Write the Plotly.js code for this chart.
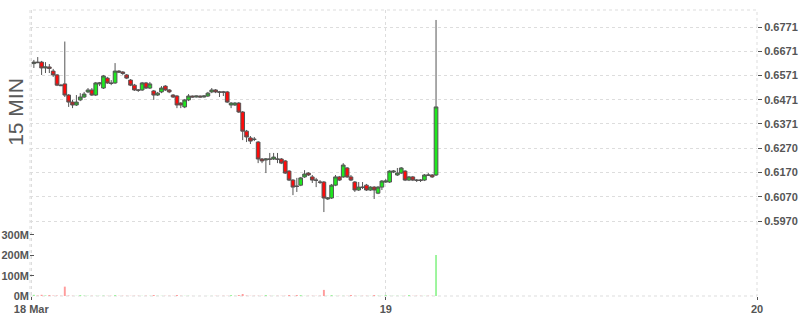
<!DOCTYPE html>
<html>
<head>
<meta charset="utf-8">
<script src="https://cdn.plot.ly/plotly-3.0.1.min.js"></script>
<style>html,body{margin:0;padding:0;background:#fff;}#chart{width:800px;height:315px;}</style>
</head>
<body>
<div id="chart"></div>
<script>
// 15-minute candles, 18 Mar 01:15 -> 19 Mar 03:15
var times = [
'2024-03-18 01:15','2024-03-18 01:30','2024-03-18 01:45','2024-03-18 02:00','2024-03-18 02:15','2024-03-18 02:30','2024-03-18 02:45',
'2024-03-18 03:00','2024-03-18 03:15','2024-03-18 03:30','2024-03-18 03:45','2024-03-18 04:00','2024-03-18 04:15','2024-03-18 04:30','2024-03-18 04:45',
'2024-03-18 05:00','2024-03-18 05:15','2024-03-18 05:30','2024-03-18 05:45','2024-03-18 06:00','2024-03-18 06:15','2024-03-18 06:30','2024-03-18 06:45',
'2024-03-18 07:00','2024-03-18 07:15','2024-03-18 07:30','2024-03-18 07:45','2024-03-18 08:00','2024-03-18 08:15','2024-03-18 08:30','2024-03-18 08:45',
'2024-03-18 09:00','2024-03-18 09:15','2024-03-18 09:30','2024-03-18 09:45','2024-03-18 10:00','2024-03-18 10:15','2024-03-18 10:30','2024-03-18 10:45',
'2024-03-18 11:00','2024-03-18 11:15','2024-03-18 11:30','2024-03-18 11:45','2024-03-18 12:00','2024-03-18 12:15','2024-03-18 12:30','2024-03-18 12:45',
'2024-03-18 13:00','2024-03-18 13:15','2024-03-18 13:30','2024-03-18 13:45','2024-03-18 14:00','2024-03-18 14:15','2024-03-18 14:30','2024-03-18 14:45',
'2024-03-18 15:00','2024-03-18 15:15','2024-03-18 15:30','2024-03-18 15:45','2024-03-18 16:00','2024-03-18 16:15','2024-03-18 16:30','2024-03-18 16:45',
'2024-03-18 17:00','2024-03-18 17:15','2024-03-18 17:30','2024-03-18 17:45','2024-03-18 18:00','2024-03-18 18:15','2024-03-18 18:30','2024-03-18 18:45',
'2024-03-18 19:00','2024-03-18 19:15','2024-03-18 19:30','2024-03-18 19:45','2024-03-18 20:00','2024-03-18 20:15','2024-03-18 20:30','2024-03-18 20:45',
'2024-03-18 21:00','2024-03-18 21:15','2024-03-18 21:30','2024-03-18 21:45','2024-03-18 22:00','2024-03-18 22:15','2024-03-18 22:30','2024-03-18 22:45',
'2024-03-18 23:00','2024-03-18 23:15','2024-03-18 23:30','2024-03-18 23:45',
'2024-03-19 00:00','2024-03-19 00:15','2024-03-19 00:30','2024-03-19 00:45','2024-03-19 01:00','2024-03-19 01:15','2024-03-19 01:30','2024-03-19 01:45',
'2024-03-19 02:00','2024-03-19 02:15','2024-03-19 02:30','2024-03-19 02:45','2024-03-19 03:00','2024-03-19 03:15'
];

var openP = [
0.6620,0.6626,0.6626,0.6602,0.6606,0.6589,0.6573,0.6531,0.6536,0.6490,0.6461,0.6449,0.6470,0.6482,0.6503,
0.6511,0.6490,0.6536,0.6519,0.6560,0.6540,0.6540,0.6589,0.6585,0.6573,0.6552,0.6531,0.6511,0.6511,0.6540,
0.6519,0.6507,0.6490,0.6503,0.6527,0.6511,0.6490,0.6486,0.6457,0.6441,0.6470,0.6486,0.6482,0.6486,0.6482,
0.6486,0.6503,0.6511,0.6503,0.6503,0.6503,0.6449,0.6449,0.6457,0.6420,0.6341,0.6313,0.6308,0.6296,0.6226,
0.6222,0.6226,0.6226,0.6226,0.6226,0.6218,0.6176,0.6139,0.6114,0.6118,0.6152,0.6168,0.6152,0.6139,0.6131,
0.6131,0.6061,0.6065,0.6118,0.6152,0.6152,0.6189,0.6152,0.6131,0.6098,0.6110,0.6118,0.6098,0.6110,0.6085,
0.6110,0.6131,0.6131,0.6172,0.6160,0.6168,0.6176,0.6139,0.6152,0.6139,0.6139,0.6139,0.6160,0.6160,0.6160
];
var highP = [
0.6635,0.6647,0.6631,0.6626,0.6618,0.6598,0.6577,0.6536,0.6711,0.6494,0.6470,0.6490,0.6498,0.6503,0.6519,
0.6519,0.6544,0.6544,0.6573,0.6565,0.6552,0.6622,0.6593,0.6589,0.6577,0.6556,0.6536,0.6515,0.6544,0.6544,
0.6544,0.6511,0.6503,0.6527,0.6531,0.6515,0.6494,0.6490,0.6461,0.6474,0.6494,0.6488,0.6488,0.6488,0.6490,
0.6503,0.6519,0.6515,0.6507,0.6507,0.6507,0.6461,0.6461,0.6461,0.6424,0.6346,0.6321,0.6317,0.6300,0.6230,
0.6230,0.6251,0.6251,0.6251,0.6230,0.6222,0.6180,0.6143,0.6148,0.6152,0.6180,0.6172,0.6160,0.6148,0.6139,
0.6135,0.6069,0.6123,0.6160,0.6156,0.6209,0.6193,0.6160,0.6135,0.6131,0.6131,0.6123,0.6114,0.6114,0.6114,
0.6139,0.6143,0.6180,0.6180,0.6189,0.6193,0.6180,0.6156,0.6156,0.6143,0.6143,0.6164,0.6168,0.6164,0.6800
];
var lowP = [
0.6602,0.6622,0.6573,0.6581,0.6581,0.6565,0.6527,0.6527,0.6482,0.6441,0.6436,0.6445,0.6465,0.6478,0.6498,
0.6486,0.6486,0.6527,0.6515,0.6536,0.6531,0.6536,0.6581,0.6573,0.6556,0.6527,0.6507,0.6503,0.6507,0.6515,
0.6515,0.6470,0.6486,0.6498,0.6507,0.6498,0.6478,0.6436,0.6436,0.6436,0.6465,0.6480,0.6480,0.6480,0.6480,
0.6482,0.6498,0.6498,0.6482,0.6486,0.6457,0.6436,0.6445,0.6416,0.6304,0.6296,0.6288,0.6300,0.6209,0.6209,
0.6168,0.6201,0.6222,0.6209,0.6205,0.6164,0.6135,0.6077,0.6090,0.6114,0.6148,0.6156,0.6127,0.6110,0.6123,
0.6007,0.6057,0.6061,0.6114,0.6135,0.6148,0.6148,0.6135,0.6090,0.6094,0.6102,0.6094,0.6094,0.6061,0.6081,
0.6098,0.6127,0.6127,0.6168,0.6156,0.6164,0.6135,0.6135,0.6135,0.6131,0.6131,0.6135,0.6156,0.6148,0.6156
];
var closeP = [
0.6626,0.6624,0.6602,0.6606,0.6600,0.6573,0.6531,0.6529,0.6490,0.6461,0.6449,0.6461,0.6482,0.6494,0.6511,
0.6490,0.6540,0.6540,0.6569,0.6540,0.6538,0.6589,0.6585,0.6579,0.6560,0.6531,0.6511,0.6510,0.6540,0.6519,
0.6536,0.6490,0.6498,0.6519,0.6511,0.6503,0.6482,0.6449,0.6449,0.6470,0.6486,0.6482,0.6486,0.6482,0.6486,
0.6498,0.6511,0.6503,0.6502,0.6502,0.6461,0.6457,0.6457,0.6420,0.6341,0.6317,0.6300,0.6307,0.6226,0.6218,
0.6226,0.6225,0.6234,0.6225,0.6209,0.6168,0.6139,0.6110,0.6113,0.6148,0.6164,0.6160,0.6139,0.6138,0.6130,
0.6065,0.6065,0.6118,0.6152,0.6139,0.6201,0.6152,0.6139,0.6098,0.6110,0.6109,0.6098,0.6110,0.6098,0.6110,
0.6135,0.6135,0.6176,0.6176,0.6168,0.6189,0.6139,0.6152,0.6139,0.6138,0.6138,0.6160,0.6159,0.6152,0.6441
];
// volume in millions
var volumeM = [
6,2,6,3,5,2,2,1,46,2,1,1,5,2,1,
1,1,1,2,1,1,5,1,1,1,1,1,1,1,1,
1,5,1,1,1,1,1,5,1,1,1,0.3,0.3,0.3,0.3,
0.5,0.5,1,0.5,1,1,5,1,5,10,2,1,1,1,1,
5,1,1,1,1,1,5,1,5,5,1,1,1,1,1,
30,1,5,1,1,1,1,5,1,1,1,1,1,5,1,
1,5,1,1,1,1,1,5,1,1,1,1,1,1,202
];

var priceTicks = [0.5970,0.6070,0.6170,0.6270,0.6371,0.6471,0.6571,0.6671,0.6771];
var priceTickText = ['0.5970','0.6070','0.6170','0.6270','0.6371','0.6471','0.6571','0.6671','0.6771'];
var volTicks = [0,100,200,300];
var volTickText = ['0M','100M','200M','300M'];
var dayTicks = ['2024-03-18 01:05','2024-03-19 00:00','2024-03-20 00:00'];
var dayTickText = ['18 Mar','19','20'];

var volumes = volumeM.map(function(v){return v*1e6;});
var volColors = closeP.map(function(c,i){
  if (c > openP[i]) return '#9cf59c';
  if (c < openP[i]) return '#ff9c9c';
  return '#666666';
});

var tickFont = {family:'Liberation Sans, Arial, sans-serif', size:11, color:'#555555', weight:'bold'};
var gridC = '#dddddd';

var traces = [
  {
    type:'bar', x:times, y:volumes, yaxis:'y2', xaxis:'x',
    width:450000, marker:{color:volColors, line:{width:0}}, hoverinfo:'skip', showlegend:false
  },
  {
    type:'candlestick', x:times, open:openP, high:highP, low:lowP, close:closeP,
    xaxis:'x', yaxis:'y', whiskerwidth:0,
    increasing:{line:{color:'#555555', width:1}, fillcolor:'#1ee81e'},
    decreasing:{line:{color:'#555555', width:1}, fillcolor:'#ff0a0a'},
    hoverinfo:'skip', showlegend:false
  }
];

var layout = {
  width:800, height:315,
  margin:{l:30, r:43, t:10, b:19, pad:0},
  paper_bgcolor:'#ffffff', plot_bgcolor:'#ffffff',
  showlegend:false,
  boxgap:0.05, boxgroupgap:0,
  xaxis:{
    type:'date', range:['2024-03-18 01:00','2024-03-20 00:00'],
    rangeslider:{visible:false},
    tickmode:'array', tickvals:dayTicks, ticktext:dayTickText,
    showgrid:true, gridcolor:gridC, griddash:'3px,3px', gridwidth:1,
    ticks:'outside', ticklen:3, tickcolor:'#555555',
    showline:false, zeroline:false, tickfont:tickFont, fixedrange:true
  },
  yaxis:{
    side:'right', range:[0.56604, 0.68412],
    tickmode:'array', tickvals:priceTicks, ticktext:priceTickText,
    showgrid:true, gridcolor:gridC, griddash:'3px,3px', gridwidth:1,
    ticks:'outside', ticklen:4, tickcolor:'#555555',
    showline:false, zeroline:false, tickfont:tickFont, fixedrange:true
  },
  yaxis2:{
    overlaying:'y', side:'left', range:[0, 1406e6],
    tickmode:'array', tickvals:volTicks.map(function(v){return v*1e6;}), ticktext:volTickText,
    showgrid:false, ticks:'inside', ticklen:4, tickcolor:'#555555',
    showline:false, zeroline:false, tickfont:tickFont, fixedrange:true
  },
  shapes:[
    {type:'rect', xref:'paper', yref:'paper', x0:0, x1:1, y0:0, y1:1,
     line:{color:gridC, width:1, dash:'3px,3px'}, layer:'below'}
  ],
  annotations:[
    {xref:'paper', yref:'paper', x:-0.021, y:0.643, text:'15 MIN', showarrow:false,
     textangle:-90, xanchor:'center', yanchor:'middle',
     font:{family:'Liberation Sans, Arial, sans-serif', size:21, color:'#595959'}}
  ]
};

Plotly.newPlot('chart', traces, layout, {displayModeBar:false, staticPlot:true});
</script>
</body>
</html>
